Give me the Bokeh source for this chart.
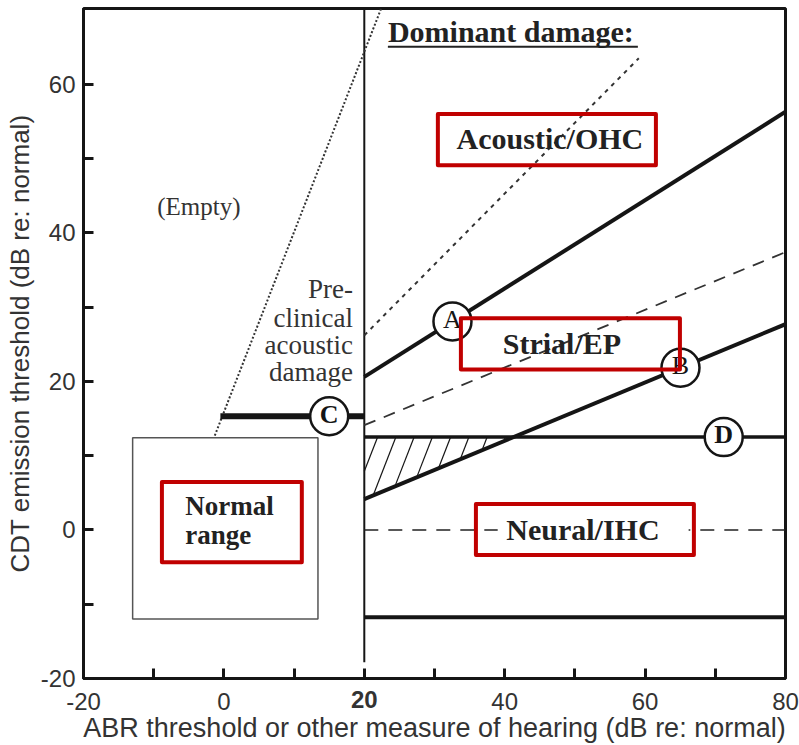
import numpy as np
from bokeh.plotting import figure
from bokeh.models import FixedTicker, LinearAxis, Range1d
from bokeh.core.properties import value
from bokeh.embed import file_html
from bokeh.resources import INLINE

# ---- values (dB re: normal): x = ABR threshold, y = CDT emission threshold ----
x_limits = [-20, 80]
y_limits = [-20, 70.2]
x_ticks = [-20, -10, 0, 10, 20, 30, 40, 50, 60, 70, 80]
x_tick_labels = ["-20", "", "0", "", "", "", "40", "", "60", "", "80"]
x_bold_tick = [20]
y_ticks = [-20, -10, 0, 10, 20, 30, 40, 50, 60]
y_tick_labels = ["-20", "", "0", "", "20", "", "40", "", "60"]

abr_span = [20, 80]                 # right-hand region (ABR >= 20 dB)
line_a_cdt = [20.6, 56.3]           # boundary A
line_b_cdt = [4.15, 27.7]           # boundary B
dashed_mid_cdt = [14.1, 37.4]
dotted_upper_abr = [20, 59.1]
dotted_upper_cdt = [26.2, 63.5]
line_d_cdt = 12.5                   # boundary D
neural_ref_cdt = 0.0
floor_cdt = -11.75
divider_abr = 20
divider_cdt = [-17.8, 70.2]
preclinical_abr = [-1.3, 22.4]
preclinical_cdt = [12.7, 70.2]
line_c_abr = [-0.5, 20]
line_c_cdt = 15.3
normal_abr = [-13.0, 13.4]
normal_cdt = [-12.0, 12.4]

marker_names = ["A", "B", "C", "D"]
marker_abr = [32.56, 65.04, 15.0, 71.2]

zone_names = ["Acoustic/OHC", "Strial/EP", "Neural/IHC"]

# ---- layout of annotations (data units) ----
zone_x = [46.44, 48.15, 51.14]
zone_y = [52.75, 25.15, 0.11]
box_left = [30.48, 33.76, 35.9, -8.83]
box_right = [61.54, 64.96, 66.95, 11.1]
box_top = [56.0, 28.5, 3.48, 6.44]
box_bottom = [49.1, 21.6, -3.37, -4.34]

INK = "#151515"
RED = "#c00000"
LABEL_GREY = "#333333"
SERIF = "Liberation Serif"
SANS = "Liberation Sans"

p = figure(width=799, height=745,
           x_range=Range1d(*x_limits), y_range=Range1d(*y_limits),
           output_backend="svg", toolbar_location=None,
           min_border_left=83, min_border_right=14,
           min_border_top=8, min_border_bottom=67)
p.xgrid.visible = False
p.ygrid.visible = False
p.background_fill_color = "white"
p.border_fill_color = "white"
p.outline_line_color = INK
p.outline_line_width = 3

# axes
p.xaxis.ticker = FixedTicker(ticks=x_ticks)
p.yaxis.ticker = FixedTicker(ticks=y_ticks)
p.xaxis.major_label_overrides = {t: s for t, s in zip(x_ticks, x_tick_labels)}
p.yaxis.major_label_overrides = {t: s for t, s in zip(y_ticks, y_tick_labels)}
for ax in (p.xaxis[0], p.yaxis[0]):
    ax.axis_line_width = 3
    ax.axis_line_color = INK
    ax.major_tick_in = 10
    ax.major_tick_out = 0
    ax.major_tick_line_width = 3
    ax.major_tick_line_color = INK
    ax.minor_tick_line_color = None
    ax.major_label_text_font = SANS
    ax.major_label_text_font_size = "24px"
    ax.major_label_text_color = LABEL_GREY
    ax.major_label_standoff = 8
    ax.axis_label_text_font = SANS
    ax.axis_label_text_font_style = "normal"
    ax.axis_label_text_color = LABEL_GREY
p.xaxis[0].major_label_standoff = 14
p.yaxis.axis_label = "CDT emission threshold (dB re: normal)"
p.yaxis.axis_label_text_font_size = "26px"
p.yaxis.axis_label_standoff = 3

# second bottom axis: bold "20" pulled up into the tick-label row, plus the title
x_title_axis = LinearAxis(ticker=FixedTicker(ticks=x_bold_tick),
                          axis_line_color=None, major_tick_line_color=None,
                          minor_tick_line_color=None,
                          major_label_standoff=-28,
                          major_label_text_font=SANS,
                          major_label_text_font_size="24px",
                          major_label_text_font_style="bold",
                          major_label_text_color=LABEL_GREY,
                          axis_label="ABR threshold or other measure of hearing (dB re: normal)",
                          axis_label_text_font=SANS,
                          axis_label_text_font_size="27px",
                          axis_label_text_font_style="normal",
                          axis_label_text_color=LABEL_GREY,
                          axis_label_standoff=2)
p.add_layout(x_title_axis, "below")

# normal range box
p.quad(left=[normal_abr[0]], right=[normal_abr[1]], bottom=[normal_cdt[0]],
       top=[normal_cdt[1]], fill_color=None, line_color="#555555", line_width=1.5)

# vertical divider at 20 dB
p.line([divider_abr, divider_abr], divider_cdt, line_color=INK, line_width=2)

# pre-clinical boundary (dotted)
p.line(preclinical_abr, preclinical_cdt, line_color=LABEL_GREY, line_width=2,
       line_dash="2 2")

# line C
p.line(line_c_abr, [line_c_cdt, line_c_cdt], line_color=INK, line_width=6)

# hatched wedge between line B and line D
b_slope = (line_b_cdt[1] - line_b_cdt[0]) / (abr_span[1] - abr_span[0])
x_cross = abr_span[0] + (line_d_cdt - line_b_cdt[0]) / b_slope
lean = 0.4125       # x shift per unit of y along each hatch stroke
hx0, hy0, hx1, hy1 = [], [], [], []
for xt in np.arange(21.9, x_cross, 2.6):
    t_b = (line_d_cdt - line_b_cdt[0] - b_slope * (xt - abr_span[0])) / (1 - b_slope * lean)
    t_l = (xt - abr_span[0]) / lean
    t = min(t_b, t_l)
    hx0.append(xt)
    hy0.append(line_d_cdt)
    hx1.append(xt - lean * t)
    hy1.append(line_d_cdt - t)
p.segment(hx0, hy0, hx1, hy1, line_color=INK, line_width=1.2)

# boundary lines of the right-hand region
p.line(dotted_upper_abr, dotted_upper_cdt, line_color=LABEL_GREY, line_width=2,
       line_dash="4 5")
p.line(abr_span, dashed_mid_cdt, line_color=LABEL_GREY, line_width=1.8,
       line_dash="12 9")
p.line(abr_span, line_a_cdt, line_color=INK, line_width=4)
p.line(abr_span, line_b_cdt, line_color=INK, line_width=4)
p.line(abr_span, [line_d_cdt, line_d_cdt], line_color=INK, line_width=3.5)
p.line(abr_span, [neural_ref_cdt, neural_ref_cdt], line_color="#222222",
       line_width=1.5, line_dash="14 10")
p.line(abr_span, [floor_cdt, floor_cdt], line_color=INK, line_width=4)

# white backing behind the Neural/IHC label
p.quad(left=[39.0], right=[66.2], bottom=[-1.2], top=[1.2],
       fill_color="white", line_color=None)

# circled markers on the boundaries
marker_cdt = [float(np.interp(marker_abr[0], abr_span, line_a_cdt)),
              float(np.interp(marker_abr[1], abr_span, line_b_cdt)),
              line_c_cdt, line_d_cdt]
p.scatter(marker_abr, marker_cdt, marker="circle", size=38, fill_color="white",
          line_color=INK, line_width=2.5)
marker_text_y = [v + 0.3 for v in marker_cdt]
p.text(marker_abr[:2], marker_text_y[:2], text=marker_names[:2],
       text_font=value(SERIF), text_font_size=value("26px"),
       text_align="center", text_baseline="middle", text_color=INK)
p.text(marker_abr[2:], marker_text_y[2:], text=marker_names[2:],
       text_font=value(SERIF), text_font_size=value("26px"), text_font_style="bold",
       text_align="center", text_baseline="middle", text_color=INK)

# zone labels
p.text(zone_x, zone_y, text=zone_names, text_font=value(SERIF),
       text_font_size=value("30px"), text_font_style="bold",
       text_align="center", text_baseline="alphabetic", text_color="#222222")
p.text([-5.5, -5.5], [3.21, -0.7], text=["Normal", "range"],
       text_font=value(SERIF), text_font_size=value("27px"), text_font_style="bold",
       text_align="left", text_baseline="alphabetic", text_color="#222222")
p.text([-3.56], [43.5], text=["(Empty)"], text_font=value(SERIF),
       text_font_size=value("25px"), text_align="center", text_baseline="middle",
       text_color=LABEL_GREY)
p.text([18.4] * 4, [32.4, 28.55, 24.85, 21.25],
       text=["Pre-", "clinical", "acoustic", "damage"],
       text_font=value(SERIF), text_font_size=value("27px"),
       text_align="right", text_baseline="alphabetic", text_color=LABEL_GREY)

# heading
p.text([23.36], [67.15], text=["Dominant damage:"], text_font=value(SERIF),
       text_font_size=value("30px"), text_font_style="bold",
       text_align="left", text_baseline="alphabetic", text_color="#222222")
p.segment([23.36], [65.05], [58.97], [65.05], line_color="#222222", line_width=2)

# red callout boxes
p.quad(left=box_left, right=box_right, bottom=box_bottom, top=box_top,
       fill_color=None, line_color=RED, line_width=4, line_join="round")

open("out.html", "w").write(file_html(p, INLINE))
